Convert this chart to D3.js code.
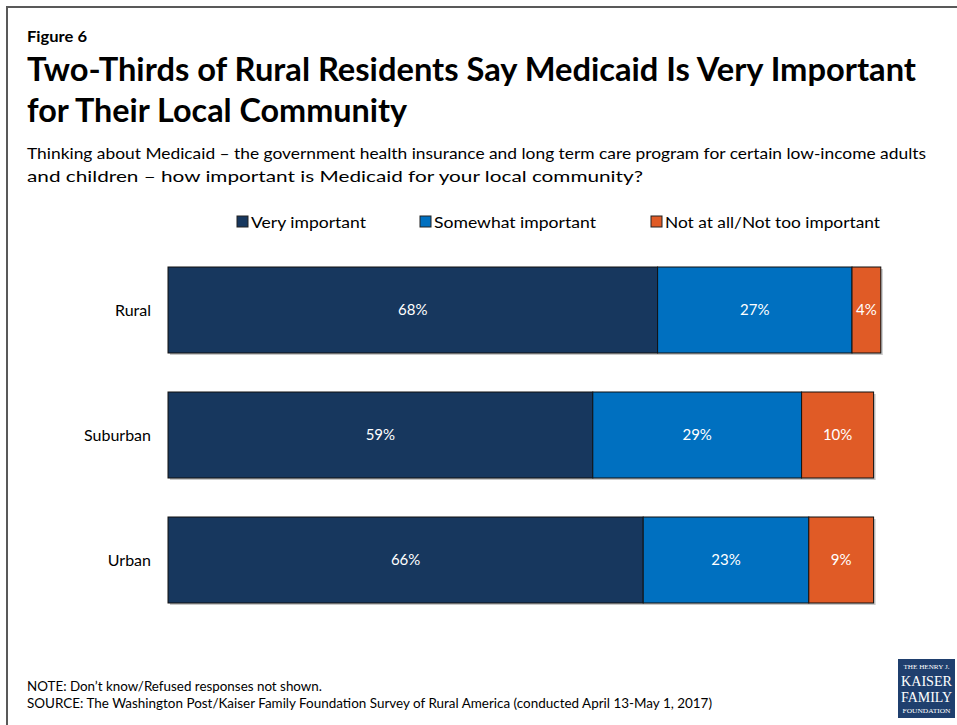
<!DOCTYPE html>
<html>
<head>
<meta charset="utf-8">
<script src="https://cdn.jsdelivr.net/npm/d3@7"></script>
<style>
  html, body { margin: 0; padding: 0; background: #fff; }
  svg { display: block; font-family: Lato, "Open Sans", sans-serif; }
</style>
</head>
<body>
<svg id="chart" width="957" height="725"></svg>
<script>
// Survey groups and response shares (%)
const categories = ["Rural", "Suburban", "Urban"];
const seriesNames = ["Very important", "Somewhat important", "Not at all/Not too important"];
const veryImportant = [68, 59, 66];
const somewhatImportant = [27, 29, 23];
const notImportant = [4, 10, 9];
const seriesColors = ["#17375E", "#0070C0", "#E05B26"];

const svg = d3.select("#chart");

// Outer frame
svg.append("rect")
  .attr("x", 7).attr("y", 7)
  .attr("width", 1000).attr("height", 1000)
  .attr("fill", "none").attr("stroke", "#595959").attr("stroke-width", 2);

// Helper for text fitted to a given width
function txt(x, y, s, size, weight, width, anchor) {
  const t = svg.append("text")
    .attr("x", x).attr("y", y)
    .attr("font-size", size)
    .attr("font-weight", weight || "normal")
    .attr("fill", "#000")
    .attr("text-anchor", anchor || "start")
    .text(s);
  if (width) t.attr("textLength", width).attr("lengthAdjust", "spacingAndGlyphs");
  return t;
}

txt(27, 42, "Figure 6", 16, "bold", 60);
txt(27, 81, "Two-Thirds of Rural Residents Say Medicaid Is Very Important", 32, "bold", 889);
txt(27, 122, "for Their Local Community", 32, "bold", 380);
txt(27, 159, "Thinking about Medicaid \u2013 the government health insurance and long term care program for certain low-income adults", 16, "normal", 899);
txt(27, 182, "and children \u2013 how important is Medicaid for your local community?", 16, "normal", 616);

// Legend
const legendX = [237, 420, 651];
const legendW = [115, 162, 215];
seriesNames.forEach((name, i) => {
  svg.append("rect")
    .attr("x", legendX[i]).attr("y", 216)
    .attr("width", 11).attr("height", 11)
    .attr("fill", seriesColors[i])
    .attr("stroke", "#222").attr("stroke-width", 1);
  txt(legendX[i] + 14, 228, name, 16, "normal", legendW[i]);
});

// Scales
const x = d3.scaleLinear().domain([0, 100]).range([168, 888]);
const y = d3.scaleBand().domain(categories).range([228, 642])
  .paddingInner(0.312).paddingOuter(0.312);

// Stack the series
const rows = categories.map((c, i) => ({
  cat: c,
  v: [veryImportant[i], somewhatImportant[i], notImportant[i]]
}));

const segs = [];
rows.forEach(r => {
  let acc = 0;
  r.v.forEach((val, k) => {
    segs.push({ cat: r.cat, k, x0: acc, x1: acc + val, val });
    acc += val;
  });
});

// Soft shadow under each bar
rows.forEach(r => {
  const total = d3.sum(r.v);
  svg.append("rect")
    .attr("x", x(0) + 2).attr("y", y(r.cat) + 2)
    .attr("width", x(total) - x(0)).attr("height", y.bandwidth())
    .attr("fill", "#9a9a9a").attr("opacity", 0.55);
});

svg.append("g").selectAll("rect")
  .data(segs).join("rect")
  .attr("x", d => x(d.x0))
  .attr("y", d => y(d.cat))
  .attr("width", d => x(d.x1) - x(d.x0))
  .attr("height", y.bandwidth())
  .attr("fill", d => seriesColors[d.k])
  .attr("stroke", "#111").attr("stroke-width", 1);

svg.append("g").selectAll("text")
  .data(segs).join("text")
  .attr("x", d => (x(d.x0) + x(d.x1)) / 2)
  .attr("y", d => y(d.cat) + y.bandwidth() / 2 + 5)
  .attr("text-anchor", "middle")
  .attr("font-size", 15)
  .attr("fill", "#fff")
  .text(d => d.val + "%");

// Category labels
svg.append("g").selectAll("text")
  .data(categories).join("text")
  .attr("x", 151)
  .attr("y", d => y(d) + y.bandwidth() / 2 + 6)
  .attr("text-anchor", "end")
  .attr("font-size", 16)
  .attr("fill", "#000")
  .text(d => d);

// Notes
txt(27, 691, "NOTE: Don\u2019t know/Refused responses not shown.", 13, "normal", 295);
txt(27, 708, "SOURCE: The Washington Post/Kaiser Family Foundation Survey of Rural America (conducted April 13-May 1, 2017)", 13, "normal", 685);

// Foundation logo
const logo = svg.append("g").attr("transform", "translate(898,659)");
logo.append("rect").attr("width", 57).attr("height", 59).attr("fill", "#1F3F6E");
const lt = (yy, s, size, w) => logo.append("text")
  .attr("x", 28.5).attr("y", yy).attr("text-anchor", "middle")
  .attr("font-family", "'Liberation Serif', serif")
  .attr("font-size", size).attr("fill", "#fff")
  .attr("textLength", w).attr("lengthAdjust", "spacingAndGlyphs")
  .text(s);
lt(10, "THE HENRY J.", 6, 46);
lt(27, "KAISER", 14, 51);
lt(43, "FAMILY", 14, 51);
lt(54, "FOUNDATION", 6, 48);
</script>
</body>
</html>
